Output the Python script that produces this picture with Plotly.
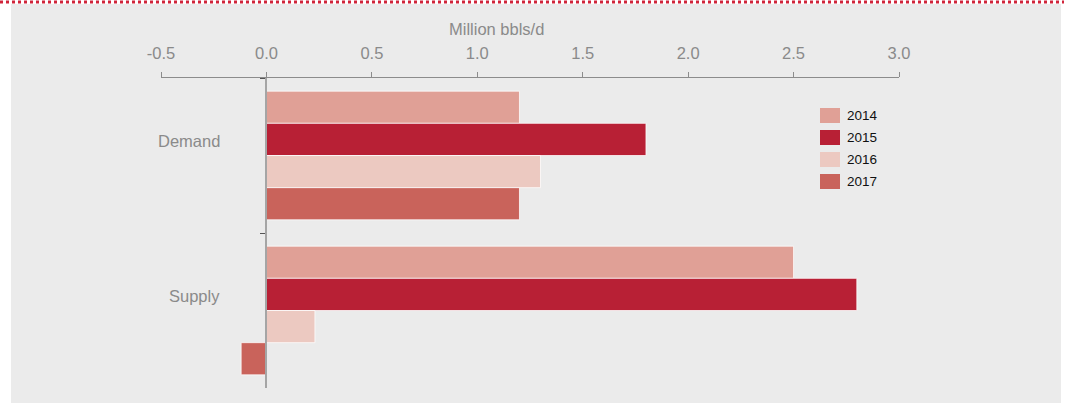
import plotly.graph_objects as go

categories = ["Demand", "Supply"]
years = ["2014", "2015", "2016", "2017"]
demand = [1.2, 1.8, 1.3, 1.2]
supply = [2.5, 2.8, 0.23, -0.12]
colors = ["#e0a096", "#b82035", "#ecc9c1", "#c9635b"]
x_ticks = [-0.5, 0.0, 0.5, 1.0, 1.5, 2.0, 2.5, 3.0]
x_title = "Million bbls/d"

W, H = 1067, 403
L, R, T, B = 161, 168, 78, 15
pw, ph = W - L - R, H - T - B

def px2paper_x(p):
    return (p - L) / pw

def px2paper_y(p):
    return (H - B - p) / ph

fig = go.Figure()
for i, yr in enumerate(years):
    fig.add_trace(go.Bar(
        y=categories, x=[demand[i], supply[i]], name=yr, orientation="h",
        marker=dict(color=colors[i], line=dict(color="rgba(255,255,255,0.75)", width=1)),
        showlegend=False,
    ))

xr = [x_ticks[0], x_ticks[-1]]
zero_pos = (0 - xr[0]) / (xr[1] - xr[0])

# custom legend (swatches 20x15, labels to the right)
legend_shapes = []
legend_ann = []
for i, (yr, c) in enumerate(zip(years, colors)):
    top = 108 + 22 * i
    legend_shapes.append(dict(
        type="rect", xref="paper", yref="paper",
        x0=px2paper_x(820), x1=px2paper_x(840), y0=px2paper_y(top + 15), y1=px2paper_y(top),
        fillcolor=c, line=dict(width=0)))
    legend_ann.append(dict(
        text=yr, xref="paper", yref="paper", x=px2paper_x(845), y=px2paper_y(top + 7.5),
        showarrow=False, xanchor="left", yanchor="middle",
        font=dict(size=13.5, color="#111111")))

fig.update_layout(
    width=W, height=H,
    margin=dict(l=L, r=R, t=T, b=B),
    paper_bgcolor="white", plot_bgcolor="rgba(0,0,0,0)",
    barmode="group", bargap=0.17, bargroupgap=0.0,
    showlegend=False,
    font=dict(family="Liberation Sans, Arial, sans-serif", color="#8a8a8a", size=16.5),
    xaxis=dict(
        side="top", range=xr, tickvals=x_ticks, ticktext=[f"{v:.1f}" for v in x_ticks],
        showgrid=False, zeroline=False, showline=True, linecolor="#8c8c8c", linewidth=1,
        ticks="outside", ticklen=5, tickcolor="#8c8c8c", ticklabelstandoff=6,
        tickfont=dict(size=16.5, color="#8a8a8a"),
    ),
    yaxis=dict(
        type="category", autorange="reversed", anchor="free", position=zero_pos,
        showgrid=False, zeroline=False, showline=True, linecolor="#a5a5a5", linewidth=2,
        ticks="outside", tickson="boundaries", ticklen=5, tickcolor="#555555",
        showticklabels=False,
    ),
    shapes=[
        dict(type="rect", xref="paper", yref="paper", layer="below",
             x0=px2paper_x(11), x1=px2paper_x(1061), y0=px2paper_y(H + 5), y1=px2paper_y(4),
             fillcolor="#ebebeb", line=dict(width=0)),
        dict(type="line", xref="paper", yref="paper",
             x0=px2paper_x(0), x1=px2paper_x(1064), y0=px2paper_y(2), y1=px2paper_y(2),
             line=dict(color="#d0243a", width=3, dash="dot")),
    ] + legend_shapes,
    annotations=[
        dict(text=x_title, xref="paper", yref="paper", x=px2paper_x(496), y=px2paper_y(29),
             showarrow=False, xanchor="center", yanchor="middle",
             font=dict(size=16.5, color="#8a8a8a")),
    ] + [
        dict(text=c, xref="paper", yref="paper", x=px2paper_x(222), y=px2paper_y(py),
             showarrow=False, xanchor="right", yanchor="middle",
             font=dict(size=16.5, color="#8a8a8a"))
        for c, py in zip(categories, [141, 296])
    ] + legend_ann,
)

fig.write_html(
    "out.html",
    config={"displayModeBar": False},
    post_script="document.body.style.margin='0px';document.body.style.overflow='hidden';",
)
